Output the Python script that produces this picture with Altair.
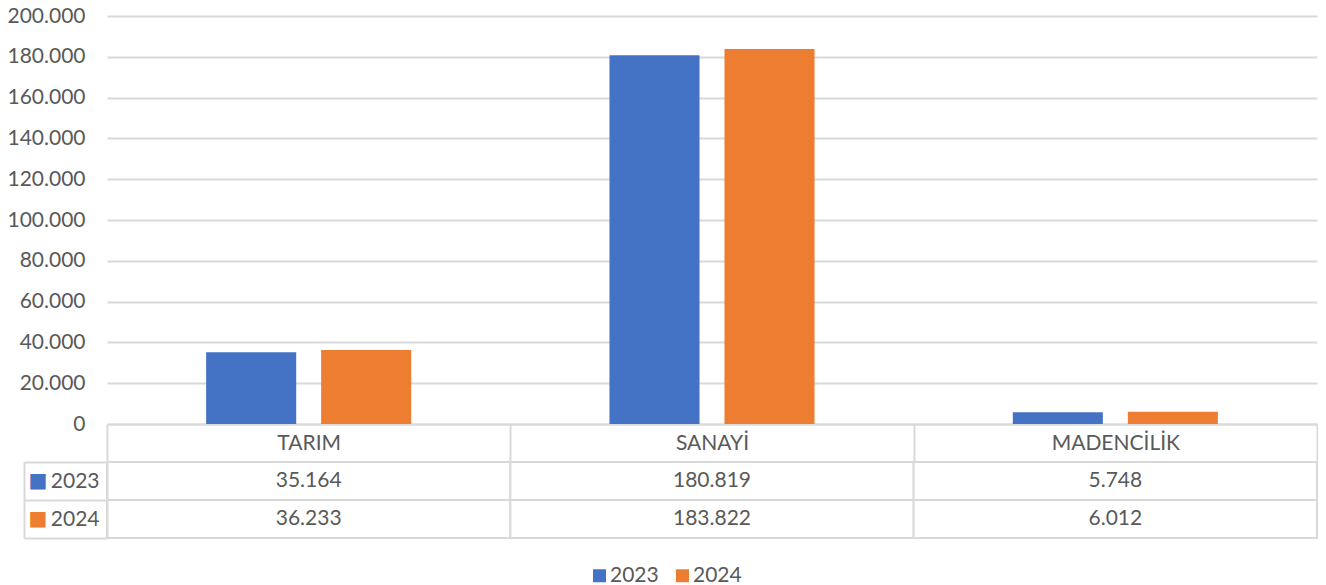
import altair as alt
import pandas as pd

categories = ["TARIM", "SANAYİ", "MADENCİLİK"]
years = ["2023", "2024"]
values_2023 = [35164, 180819, 5748]
values_2024 = [36233, 183822, 6012]
y_ticks = [0, 20000, 40000, 60000, 80000, 100000, 120000, 140000, 160000, 180000, 200000]
colors = ["#4472C4", "#ED7D31"]

rows = []
for yr, vals in zip(years, [values_2023, values_2024]):
    for c, v in zip(categories, vals):
        rows.append({"Kategori": c, "Yıl": yr, "Değer": v,
                     "Etiket": f"{v:,}".replace(",", ".")})
df = pd.DataFrame(rows)

FONT = "Lato"
FS = 21
TXT = "#595959"
GRID = "#d9d9d9"
LW = 2

x_scale = alt.Scale(domain=categories, paddingInner=0, paddingOuter=0)
y_row_scale = alt.Scale(domain=years, paddingInner=0, paddingOuter=0)

bars = alt.Chart(df).mark_bar().encode(
    x=alt.X("Kategori:N", scale=x_scale, sort=categories,
            axis=alt.Axis(title=None, orient="bottom", labelAngle=0,
                          domainColor=GRID, domainWidth=LW,
                          tickBand="extent", tickSize=37, tickColor=GRID, tickWidth=LW,
                          labelPadding=-29, labelFont=FONT, labelFontSize=FS,
                          labelColor=TXT)),
    xOffset=alt.XOffset("Yıl:N", scale=alt.Scale(domain=years, paddingInner=0.217,
                                                 paddingOuter=0.862)),
    y=alt.Y("Değer:Q", scale=alt.Scale(domain=[0, 200000], nice=False),
            axis=alt.Axis(title=None, values=y_ticks, grid=True, gridColor=GRID,
                          gridWidth=LW, domain=False, ticks=False, labelPadding=22,
                          labelFont=FONT, labelFontSize=FS, labelColor=TXT,
                          labelExpr="replace(format(datum.value, ','), regexp(',', 'g'), '.')")),
    color=alt.Color("Yıl:N", scale=alt.Scale(domain=years, range=colors),
                    legend=alt.Legend(title=None, orient="none", legendX=482, legendY=549,
                                      direction="horizontal",
                                      symbolType="square", symbolSize=169,
                                      symbolStrokeWidth=0, labelFont=FONT,
                                      labelFontSize=FS, labelColor=TXT,
                                      columnPadding=13, labelOffset=0)),
).properties(width=1210, height=408)

base = alt.Chart(df).encode(
    x=alt.X("Kategori:N", scale=x_scale, sort=categories, axis=None),
)

cells = base.mark_rect(fill="white", stroke=GRID, strokeWidth=LW).encode(
    y=alt.Y("Yıl:N", scale=y_row_scale,
            axis=alt.Axis(title=None, orient="left", domainColor=GRID, domainWidth=LW,
                          tickBand="extent", tickSize=83, tickColor=GRID, tickWidth=LW,
                          labelPadding=-75, labelFont=FONT, labelFontSize=FS,
                          labelColor=TXT)),
)

texts = base.mark_text(font=FONT, fontSize=FS, color=TXT).encode(
    y=alt.Y("Yıl:N", scale=y_row_scale,
            axis=alt.Axis(title=None, orient="left", offset=83, domainColor=GRID,
                          domainWidth=LW, ticks=False, labelAlign="left",
                          labelPadding=-4, labelExpr="'■'", labelFont="DejaVu Sans",
                          labelFontSize=20,
                          labelColor=alt.expr("datum.value == '2023' ? '#4472C4' : '#ED7D31'"))),
    text="Etiket:N",
)

table = alt.layer(cells, texts).resolve_axis(y="independent").properties(width=1210, height=76)

chart = alt.vconcat(bars, table, spacing=-12).resolve_scale(color="shared").resolve_legend(
    color="shared"
).properties(
    padding={"left": -2, "top": -3, "right": 0, "bottom": 0}
).configure_view(stroke=None)

chart.save("out.html", embed_options={"renderer": "svg", "actions": False})
